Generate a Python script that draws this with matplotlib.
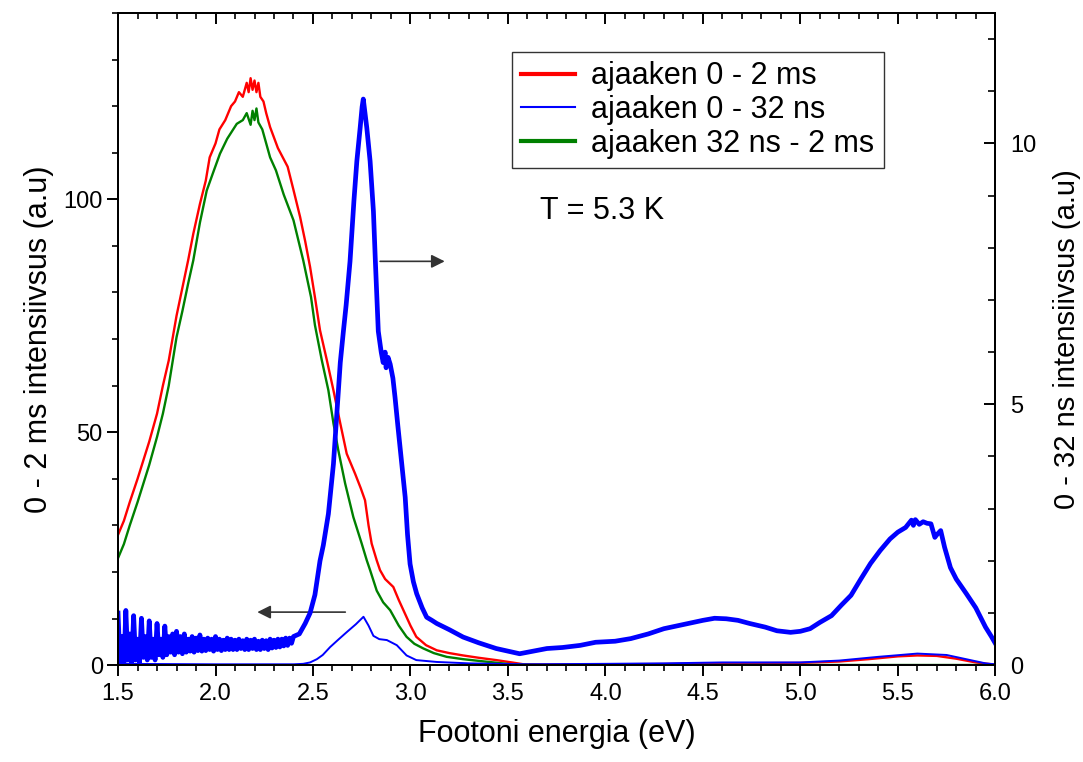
import matplotlib
matplotlib.use("Agg")
import matplotlib.pyplot as plt
from matplotlib.ticker import MultipleLocator

plt.rcParams['font.family'] = ['Liberation Sans', 'DejaVu Sans']

# 0 - 2 ms spectrum (left axis)
x_ms = [1.50, 1.53, 1.56, 1.60, 1.63, 1.66, 1.70, 1.73, 1.76, 1.80, 1.83, 1.86, 1.886,
        1.92, 1.95, 1.97, 2.00, 2.02, 2.05, 2.08, 2.10, 2.12, 2.14, 2.16, 2.17, 2.18,
        2.19, 2.20, 2.21, 2.22, 2.23, 2.246, 2.26, 2.28, 2.32, 2.37, 2.40, 2.434, 2.46,
        2.485, 2.51, 2.536, 2.571, 2.605, 2.64, 2.673, 2.716, 2.745, 2.767, 2.785, 2.801,
        2.827, 2.844, 2.87, 2.912, 2.94, 2.964, 3.00, 3.03, 3.08, 3.135, 3.20, 3.27, 3.35,
        3.44, 3.52, 3.58, 3.70, 4.00, 4.30, 4.60, 5.00, 5.20, 5.35, 5.50, 5.60, 5.70,
        5.80, 5.90, 6.00]
y_ms = [28, 31, 35, 40, 44, 48, 54, 60, 65.4, 75, 81, 87, 92.6,
        99, 104, 109, 112, 115, 117, 120, 121, 123, 122, 125, 123, 126,
        123.5, 125.5, 123, 125, 122, 121, 118.5, 115.5, 111, 107, 102, 96.2, 91,
        85.5, 79, 71.9, 65.5, 59, 51.9, 45.4, 41.1, 38, 35.4, 30, 26.1,
        22.5, 20.4, 18.5, 16.8, 14, 11.8, 8.5, 6.1, 4.3, 3.2, 2.6, 2.1, 1.6,
        1.1, 0.6, 0.2, 0.15, 0.2, 0.25, 0.4, 0.5, 0.8, 1.3, 1.9, 2.1, 2.0,
        1.4, 0.6, 0.1]

# 32 ns - 2 ms spectrum (left axis)
x_late = [1.50, 1.53, 1.56, 1.60, 1.63, 1.66, 1.70, 1.73, 1.76, 1.80, 1.83, 1.86, 1.886,
          1.92, 1.955, 1.99, 2.023, 2.06, 2.109, 2.14, 2.16, 2.18, 2.19, 2.20, 2.21, 2.22,
          2.24, 2.26, 2.28, 2.31, 2.35, 2.40, 2.45, 2.49, 2.51, 2.545, 2.579, 2.605, 2.63,
          2.665, 2.707, 2.75, 2.776, 2.793, 2.827, 2.86, 2.896, 2.94, 2.98, 3.02, 3.066,
          3.12, 3.186, 3.27, 3.357, 3.45, 3.528, 3.70, 6.00]
y_late = [23, 26, 30, 35, 39, 43, 49, 54, 60, 70.4, 76, 82, 86.9,
          95, 101.9, 106, 109.8, 113, 116.2, 117, 118.5, 116, 119, 117, 119.5, 116.5,
          115, 112, 109, 106.2, 101, 95.5, 86.9, 79, 73, 65.5, 59, 51.9, 46.1,
          39, 31.8, 26.1, 22.5, 20.4, 16, 13.5, 11.8, 8.5, 6.1, 4.6, 3.6,
          2.6, 1.8, 1.3, 0.9, 0.5, 0.15, 0.05, 0.05]

# 0 - 32 ns spectrum drawn on the left axis (thin line)
x_ns_thin = [1.50, 2.00, 2.40, 2.45, 2.485, 2.52, 2.55, 2.588, 2.63, 2.673, 2.72, 2.759,
             2.785, 2.81, 2.84, 2.879, 2.93, 2.98, 3.03, 3.135, 3.30, 3.60, 4.00, 4.30,
             4.60, 5.00, 5.20, 5.40, 5.60, 5.75, 5.85, 5.95, 6.00]
y_ns_thin = [0.3, 0.2, 0.2, 0.3, 0.6, 1.3, 2.2, 3.9, 5.5, 7.1, 8.8, 10.4,
             8.5, 6.3, 5.6, 5.4, 4.3, 2.1, 1.1, 0.7, 0.4, 0.2, 0.3, 0.4,
             0.6, 0.6, 1.0, 1.8, 2.5, 2.2, 1.3, 0.4, 0.2]

# 0 - 32 ns spectrum on the right axis (thick line)
x_ns = [1.50, 1.51, 1.52, 1.53, 1.54, 1.55, 1.56, 1.57, 1.58, 1.59, 1.60, 1.61, 1.62,
        1.63, 1.64, 1.65, 1.66, 1.67, 1.68, 1.69, 1.70, 1.71, 1.72, 1.73, 1.74, 1.75,
        1.76, 1.77, 1.78, 1.79, 1.80, 1.81, 1.82, 1.83, 1.84, 1.85, 1.86, 1.87, 1.88,
        1.89, 1.90, 1.91, 1.92, 1.93, 1.94, 1.95, 1.96, 1.97, 1.98, 1.99, 2.00, 2.01,
        2.02, 2.03, 2.04, 2.05, 2.06, 2.07, 2.08, 2.09, 2.10, 2.11, 2.12, 2.13, 2.14,
        2.15, 2.16, 2.17, 2.18, 2.19, 2.20, 2.21, 2.22, 2.23, 2.24, 2.25, 2.26, 2.27,
        2.28, 2.29, 2.30, 2.31, 2.32, 2.33, 2.34, 2.35, 2.36, 2.37, 2.38, 2.39, 2.40,
        2.43, 2.46, 2.485, 2.51,
        2.536, 2.553, 2.579, 2.605, 2.622, 2.64, 2.656, 2.67, 2.69, 2.71, 2.725, 2.742,
        2.752, 2.758, 2.766, 2.776, 2.793, 2.81, 2.82, 2.835, 2.85, 2.86, 2.87, 2.875,
        2.885, 2.896, 2.91, 2.921, 2.935, 2.947, 2.96, 2.973, 2.985, 2.998, 3.015, 3.032,
        3.06, 3.083, 3.11, 3.135, 3.20, 3.27, 3.35, 3.44, 3.50, 3.56, 3.63, 3.70, 3.78,
        3.87, 3.95, 4.05, 4.13, 4.22, 4.30, 4.40, 4.50, 4.56, 4.62, 4.68, 4.74, 4.82,
        4.88, 4.95, 5.00, 5.05, 5.10, 5.16, 5.21, 5.26, 5.31, 5.36, 5.41, 5.46, 5.50,
        5.54, 5.57, 5.58, 5.59, 5.61, 5.63, 5.65, 5.67, 5.69, 5.70, 5.72, 5.74, 5.77,
        5.80, 5.85, 5.90, 5.95, 5.98, 6.00]
y_ns = [1.0, 0.05, 0.55, 0.0, 1.05, 0.1, 0.6, 0.05, 0.95, 0.1, 0.5, 0.05, 0.9,
        0.15, 0.55, 0.1, 0.85, 0.15, 0.5, 0.1, 0.8, 0.2, 0.5, 0.15, 0.75, 0.2,
        0.55, 0.25, 0.6, 0.2, 0.65, 0.25, 0.55, 0.22, 0.6, 0.25, 0.5, 0.27, 0.55,
        0.25, 0.52, 0.28, 0.58, 0.27, 0.5, 0.28, 0.52, 0.3, 0.5, 0.27, 0.55, 0.3,
        0.5, 0.28, 0.48, 0.3, 0.52, 0.3, 0.5, 0.3, 0.48, 0.3, 0.5, 0.32, 0.47,
        0.3, 0.5, 0.3, 0.48, 0.32, 0.5, 0.3, 0.46, 0.3, 0.48, 0.32, 0.47, 0.3,
        0.5, 0.33, 0.48, 0.34, 0.5, 0.35, 0.5, 0.37, 0.52, 0.38, 0.52, 0.42, 0.55,
        0.6, 0.8, 1.0, 1.35,
        2.0, 2.3, 2.9, 3.86, 4.81, 5.8, 6.4, 6.9, 7.74, 8.9, 9.66, 10.3,
        10.7, 10.85, 10.6, 10.3, 9.66, 8.7, 7.74, 6.4, 6.0, 5.8, 6.0, 5.7,
        5.9, 5.77, 5.5, 5.13, 4.6, 4.17, 3.7, 3.22, 2.5, 1.94, 1.6, 1.37,
        1.1, 0.92, 0.86, 0.80, 0.68, 0.54, 0.43, 0.32, 0.27, 0.22, 0.27, 0.32, 0.34,
        0.38, 0.44, 0.46, 0.51, 0.6, 0.70, 0.78, 0.86, 0.9, 0.89, 0.86, 0.80, 0.73,
        0.66, 0.63, 0.65, 0.7, 0.82, 0.95, 1.15, 1.34, 1.65, 1.95, 2.2, 2.42, 2.55,
        2.64, 2.78, 2.68, 2.79, 2.7, 2.75, 2.72, 2.71, 2.45, 2.5, 2.58, 2.26, 1.87,
        1.65, 1.38, 1.1, 0.73, 0.55, 0.42]

labels = ['ajaaken 0 - 2 ms', 'ajaaken 0 - 32 ns', 'ajaaken 32 ns - 2 ms']

fig, ax = plt.subplots(figsize=(10.83, 7.62), dpi=100)
fig.subplots_adjust(left=0.109, right=0.919, bottom=0.127, top=0.983)
ax2 = ax.twinx()

l_ms, = ax.plot(x_ms, y_ms, color='#ff0000', lw=1.7, label=labels[0])
l_late, = ax.plot(x_late, y_late, color='#008000', lw=1.7, label=labels[2])
l_thin, = ax.plot(x_ns_thin, y_ns_thin, color='#0000ff', lw=1.4, label=labels[1])
ax2.plot(x_ns, y_ns, color='#0000ff', lw=3.4)

ax.set_xlim(1.5, 6.0)
ax.set_ylim(0, 140)
ax2.set_ylim(0, 12.5)

ax.xaxis.set_major_locator(MultipleLocator(0.5))
ax.xaxis.set_minor_locator(MultipleLocator(0.1))
ax.yaxis.set_major_locator(MultipleLocator(50))
ax.yaxis.set_minor_locator(MultipleLocator(10))
ax2.yaxis.set_major_locator(MultipleLocator(5))
ax2.yaxis.set_minor_locator(MultipleLocator(1))

ax.tick_params(axis='x', which='major', direction='out', length=8, width=1.4,
               labelsize=17, pad=5)
ax.tick_params(axis='y', which='major', direction='out', length=8, width=1.4,
               labelsize=17, pad=3)
ax.tick_params(axis='both', which='minor', direction='out', length=4, width=1.2)
ax2.tick_params(axis='y', which='major', direction='in', length=8, width=1.4,
                labelsize=17, pad=11)
ax2.tick_params(axis='y', which='minor', direction='in', length=5, width=1.2)

# ticks on the top edge point inward
top = ax.secondary_xaxis('top')
top.xaxis.set_major_locator(MultipleLocator(0.5))
top.xaxis.set_minor_locator(MultipleLocator(0.1))
top.tick_params(which='major', direction='in', length=8, width=1.4, labeltop=False)
top.tick_params(which='minor', direction='in', length=4, width=1.2)

for a in (ax, ax2):
    for s in a.spines.values():
        s.set_linewidth(1.4)
top.spines['top'].set_linewidth(1.4)

ax.set_xlabel('Footoni energia (eV)', fontsize=22, labelpad=10)
ax.set_ylabel('0 - 2 ms intensiivsus (a.u)', fontsize=22, labelpad=7)
ax2.set_ylabel('0 - 32 ns intensiivsus (a.u)', fontsize=21, labelpad=12)

# arrows pointing to the axis each curve belongs to
ax.annotate('', xy=(2.20, 11.4), xytext=(2.68, 11.4),
            arrowprops=dict(arrowstyle='-|>', color='#333333', lw=1.2, mutation_scale=20))
ax2.annotate('', xy=(3.19, 7.74), xytext=(2.83, 7.74),
             arrowprops=dict(arrowstyle='-|>', color='#333333', lw=1.2, mutation_scale=20))

ax.text(3.665, 97.5, 'T = 5.3 K', fontsize=22, va='center', ha='left')

leg = ax2.legend(handles=[l_ms, l_thin, l_late], labels=labels, loc='upper left',
                 bbox_to_anchor=(0.449, 0.94), borderaxespad=0, fontsize=22,
                 fancybox=False, frameon=True, handlelength=1.75, handletextpad=0.55,
                 labelspacing=0.12, borderpad=0.3)
leg.get_frame().set_edgecolor('black')
leg.get_frame().set_linewidth(1.0)
for h in leg.get_lines():
    h.set_linewidth(3.0 if h.get_color() != '#0000ff' else 1.5)

fig.savefig('out.png', dpi=100)
